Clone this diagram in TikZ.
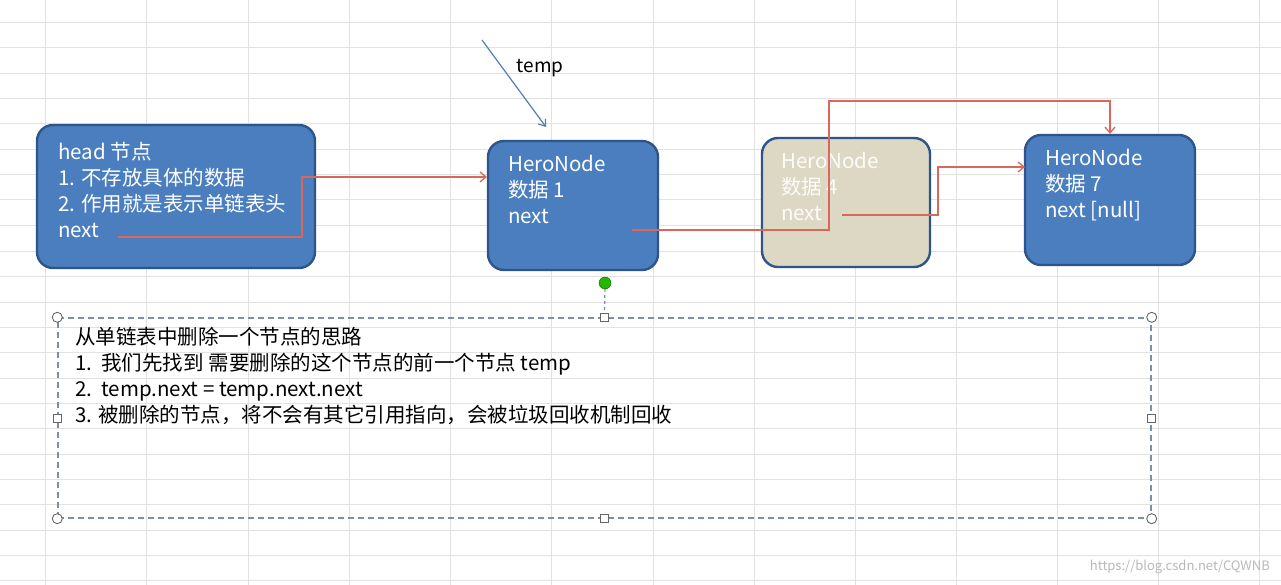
\documentclass[tikz,border=0pt]{standalone}
\usepackage{fontspec}
\setmainfont{Noto Sans CJK SC}
\usetikzlibrary{arrows.meta}
\definecolor{boxblue}{HTML}{4A7EBF}
\definecolor{boxedge}{HTML}{2E548C}
\definecolor{tan}{HTML}{DDD8C3}
\definecolor{redl}{HTML}{D9675C}
\definecolor{gridc}{HTML}{E2E2E2}
\definecolor{dashc}{HTML}{7D8FA8}
\tikzset{
 hero/.style={draw=boxedge,line width=2.4pt,fill=boxblue,rounded corners=16pt,inner sep=0},
 txt/.style={anchor=north west,align=left,text=white,font=\fontsize{20.5}{26}\selectfont,inner sep=0},
 link/.style={draw=redl,line width=1.3pt,-{Straight Barb[length=6pt,width=10pt]}},
 handle/.style={circle,draw=gray!80!black,fill=white,minimum size=10pt,inner sep=0,line width=0.9pt},
 shandle/.style={rectangle,draw=gray!80!black,fill=white,minimum size=8pt,inner sep=0,line width=0.9pt}
}
\begin{document}
\begin{tikzpicture}[x=1pt,y=-1pt]
\useasboundingbox (0,0) rectangle (1281,585);
\fill[white] (0,0) rectangle (1281,585);
\foreach \gx in {45,146,248,349,450,551,653,754,855,956,1057,1158,1259}
  \draw[gridc,line width=1pt] (\gx,0) -- (\gx,585);
\foreach \gy in {23,48,74,99,124,150,175,200,226,251,276,302,327,352,378,403,428,454,479,504,530,555,580}
  \draw[gridc,line width=1pt] (0,\gy) -- (1281,\gy);
% boxes
\node[hero,minimum width=278pt,minimum height=143pt] (head) at (176,196.5) {};
\node[hero,minimum width=170pt,minimum height=129pt] (n1) at (573,205.5) {};
\node[hero,fill=tan,minimum width=168pt,minimum height=129pt] (n4) at (846,202.5) {};
\node[hero,minimum width=170pt,minimum height=130pt] (n7) at (1110,200) {};
\node[txt] (th) at (58,142) {head 节点\\1. 不存放具体的数据\\2. 作用就是表示单链表头\\next};
\node[txt] (t1) at (508,155) {HeroNode\\数据 1\\next};
\node[txt,text=white!92!tan] (t4) at (781,152) {HeroNode\\数据 4\\next};
\node[txt] (t7) at (1045,149) {HeroNode\\数据 7\\next [null]};
% temp
\coordinate (tempstart) at (482,40);
\coordinate (temptip) at (546,127);
\node[font=\fontsize{19}{20}\selectfont,inner sep=0] (templ) at (540,68) {temp};
\draw[draw=boxblue!85!gray,line width=1.2pt,-{Straight Barb[length=6pt,width=9pt]}] (tempstart) -- (temptip);
% links
\coordinate (hs) at (118,237);
\coordinate (h1) at (487,177);
\draw[link] (hs) -| (302,177) -- (h1);
\coordinate (s1) at (632,230);
\coordinate (e7) at (1110,134);
\draw[link] (s1) -| (829,101) -| (e7);
\coordinate (s4) at (842,215);
\coordinate (e4) at (1025,167);
\draw[link] (s4) -| (938,167) -- (e4);
% text box
\node[draw=dashc,dash pattern=on 6pt off 4pt,line width=1.4pt,minimum width=1093pt,minimum height=200pt,inner sep=0] (tb) at (604.5,418) {};
\coordinate (gd) at (605,283);
\draw[dashc,dash pattern=on 3pt off 3pt,line width=1.2pt] (gd) -- (tb.north);
\node[circle,fill=green!65!black!80!lime,draw=green!40!black,minimum size=12pt,inner sep=0] (gdot) at (gd) {};
\foreach \a in {north west,north east,south west,south east} \node[handle] at (tb.\a) {};
\foreach \a in {north,south,west,east} \node[shandle] at (tb.\a) {};
\node[txt,text=black,font=\fontsize{20.5}{26}\selectfont] (tbt) at (75,327) {从单链表中删除一个节点的思路\\1.\ \ 我们先找到 需要删除的这个节点的前一个节点 temp\\2.\ \ temp.next = temp.next.next\\3. 被删除的节点，将不会有其它引用指向，会被垃圾回收机制回收};
\node[anchor=east,text=gray!55,font=\fontsize{13}{14}\selectfont,inner sep=0] (wm) at (1270,567) {https://blog.csdn.net/CQWNB};
\end{tikzpicture}
\end{document}
